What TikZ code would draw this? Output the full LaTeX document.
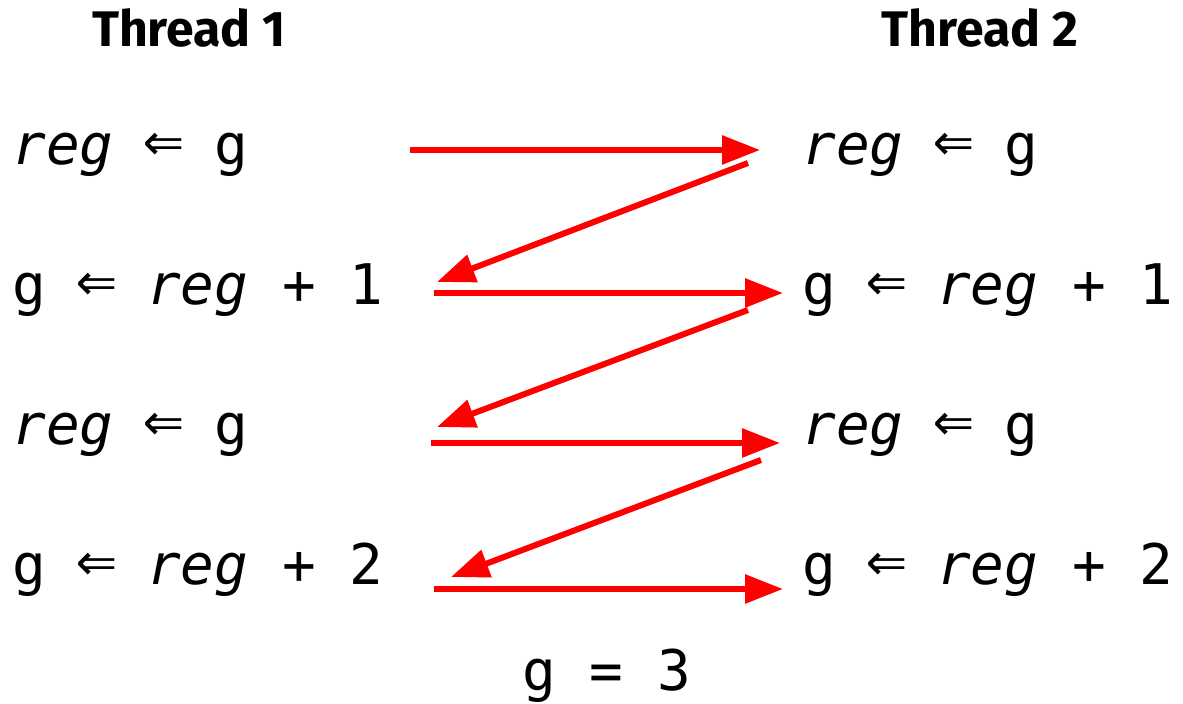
\documentclass[tikz,border=0pt]{standalone}
\usepackage{fontspec}
\setmonofont{DejaVu Sans Mono}[ItalicFont={DejaVu Sans Mono Oblique}]
\newfontfamily\headfont{Fira Sans}
\usetikzlibrary{arrows.meta}

% fleche d'affectation
\newcommand{\assignarr}{\makebox[0.602em]{\raisebox{0.04em}{\scalebox{1.2}{⇐}}}}

\tikzset{
  code/.style={anchor=base west, inner sep=0pt, font=\ttfamily\fontsize{28}{30}\selectfont},
  head/.style={anchor=base, inner sep=0pt, font=\headfont\bfseries\fontsize{25}{28}\selectfont},
  flow/.style={red, line width=3pt, -{Triangle[length=19pt, width=14pt]}}
}

\begin{document}
\begin{tikzpicture}[x=0.5pt, y=-0.5pt]
  \useasboundingbox (0,0) rectangle (1183,704);
  % Titres
  \node[head] (h1) at (189,47) {Thread 1};
  \node[head] (h2) at (980,47) {Thread 2};
  % Thread 1
  \node[code] (a1) at (12,165) {\textit{reg} \assignarr{} g};
  \node[code] (a2) at (12,305) {g \assignarr{} \textit{reg} + 1};
  \node[code] (a3) at (12,445) {\textit{reg} \assignarr{} g};
  \node[code] (a4) at (12,585) {g \assignarr{} \textit{reg} + 2};
  % Thread 2
  \node[code] (b1) at (802,165) {\textit{reg} \assignarr{} g};
  \node[code] (b2) at (802,305) {g \assignarr{} \textit{reg} + 1};
  \node[code] (b3) at (802,445) {\textit{reg} \assignarr{} g};
  \node[code] (b4) at (802,585) {g \assignarr{} \textit{reg} + 2};
  % Resultat
  \node[code] (res) at (522,690) {g = 3};
  % Points des fleches
  \coordinate (a1o) at (410,150);
  \coordinate (a2o) at (434,293);
  \coordinate (a3o) at (431,443);
  \coordinate (a4o) at (434,589);
  \coordinate (a2i) at (437,282);
  \coordinate (a3i) at (437,427);
  \coordinate (a4i) at (451,577);
  \coordinate (b1i) at (760,150);
  \coordinate (b2i) at (783,293);
  \coordinate (b3i) at (780,443);
  \coordinate (b4i) at (783,589);
  \coordinate (b1o) at (748,163);
  \coordinate (b2o) at (748,310);
  \coordinate (b3o) at (761,460);
  % Fleches
  \draw[flow] (a1o) -- (b1i);
  \draw[flow] (b1o) -- (a2i);
  \draw[flow] (a2o) -- (b2i);
  \draw[flow] (b2o) -- (a3i);
  \draw[flow] (a3o) -- (b3i);
  \draw[flow] (b3o) -- (a4i);
  \draw[flow] (a4o) -- (b4i);
\end{tikzpicture}
\end{document}
